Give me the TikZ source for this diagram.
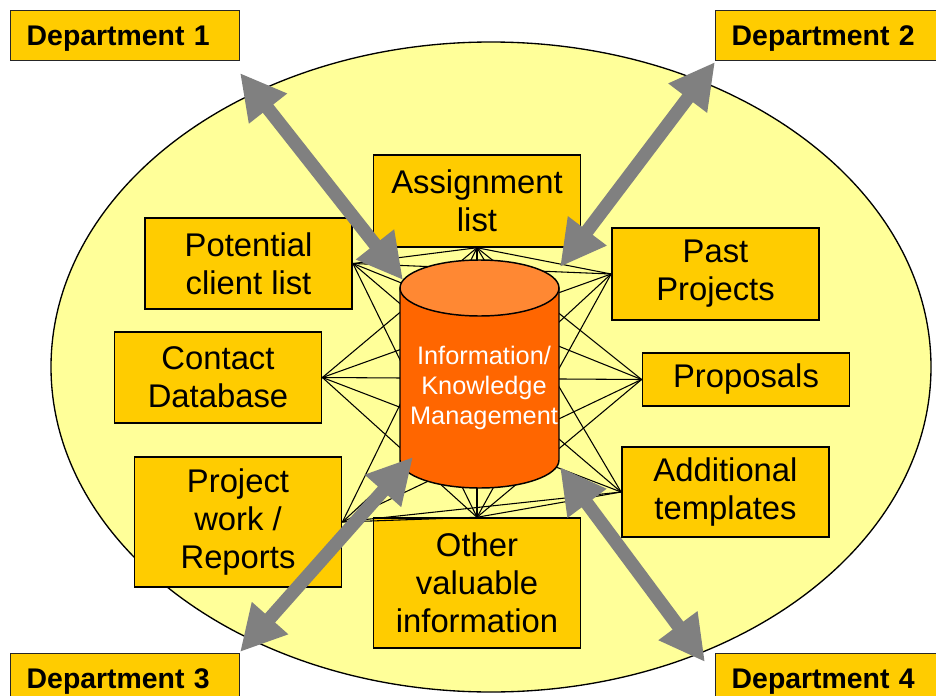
\documentclass[tikz,border=0pt]{standalone}
\usepackage{fontspec}
\setmainfont{Liberation Sans}
\usetikzlibrary{arrows.meta}

\definecolor{boxgold}{RGB}{255,204,0}
\definecolor{paleyellow}{RGB}{255,255,153}
\definecolor{drumbody}{RGB}{255,102,0}
\definecolor{drumtop}{RGB}{255,136,51}
\definecolor{arrowgray}{RGB}{128,128,128}

\tikzset{every picture/.style={line width=0.75pt}}
\tikzset{
  infobox/.style={draw, fill=boxgold, line width=1.1pt, minimum width=155.5pt,
    inner sep=0pt, align=center, font=\fontsize{24.6}{28.5}\selectfont},
  deptbox/.style={draw=black!85, fill=boxgold, line width=1.1pt, anchor=north west,
    minimum height=37.5pt, inner xsep=12pt, inner ysep=0pt, text width=147.75pt,
    text depth=0pt, align=left, font=\fontsize{21.3}{24}\selectfont\bfseries},
  meshline/.style={line width=0.8pt},
  bigarrow/.style={draw=arrowgray, line width=10pt,
    {Triangle[length=34pt,width=34pt]}-{Triangle[length=34pt,width=34pt]}},
}

\begin{document}
\begin{tikzpicture}[x=0.75pt,y=0.75pt,yscale=-1,xscale=1]
	\useasboundingbox (0,0) rectangle (936,696);

	% Background ellipse
	\draw [fill=paleyellow, line width=1pt] (491,367) ellipse [x radius=440, y radius=325];

	% Department boxes
	\node [deptbox] (dept1) at (10,10) {Department 1};
	\node [deptbox] (dept2) at (715,10) {Department 2};
	\node [deptbox] (dept3) at (10,653) {Department 3};
	\node [deptbox] (dept4) at (715,653) {Department 4};

	% Information boxes
	\node [infobox, minimum height=69pt] (assign) at (477,201) {Assignment\\list};
	\node [infobox, minimum height=68.25pt] (potential) at (248.5,263.5) {Potential\\client list};
	\node [infobox, minimum height=69pt] (past) at (715.5,274) {Past\\Projects};
	\node [infobox, minimum height=68.25pt] (contact) at (218,377.5) {Contact\\Database};
	\node [infobox, minimum height=39.75pt] (proposals) at (746,379.5) {Proposals};
	\node [infobox, minimum height=67.5pt] (additional) at (725.5,492) {Additional\\templates};
	\node [infobox, minimum height=97.5pt] (project) at (238,522) {Project\\work /\\Reports};
	\node [infobox, minimum height=97.5pt] (other) at (477,583) {Other\\valuable\\information};

	% Mesh of thin links
	\coordinate (pcl) at (potential.east);
	\coordinate (cdb) at (contact.east);
	\coordinate (pwr) at (project.east);
	\coordinate (asl) at (assign.south);
	\coordinate (ovi) at (other.north);
	\coordinate (ppj) at (past.west);
	\coordinate (prp) at (proposals.west);
	\coordinate (adt) at (additional.west);
	\foreach \a in {pcl,cdb,pwr,asl,ovi}
		\foreach \b in {ppj,prp,adt}
			\draw [meshline] (\a) -- (\b);
	\foreach \b in {pcl,cdb,pwr,ovi}
		\draw [meshline] (asl) -- (\b);
	\foreach \b in {pcl,cdb,pwr}
		\draw [meshline] (ovi) -- (\b);

	% Database drum
	\draw [fill=drumbody, line width=1.1pt] (400,288) -- (400,460)
		arc [start angle=180, end angle=0, x radius=79.5, y radius=28] -- (559,288) -- cycle;
	\draw [fill=drumtop, line width=1.1pt] (479.5,288) ellipse [x radius=79.5, y radius=28];
	\node [text=white, align=center, font=\fontsize{19}{22.5}\selectfont] (km) at (484,388)
		{Information/\\Knowledge\\Management};

	% Two-way arrows
	\coordinate (d1tip) at (240,73);
	\coordinate (k1tip) at (403,280);
	\coordinate (d2tip) at (715,62);
	\coordinate (k2tip) at (560,267);
	\coordinate (d3tip) at (240,652);
	\coordinate (k3tip) at (413,457);
	\coordinate (d4tip) at (705,662);
	\coordinate (k4tip) at (560,467);
	\draw [bigarrow] (d1tip) -- (k1tip);
	\draw [bigarrow] (d2tip) -- (k2tip);
	\draw [bigarrow] (d3tip) -- (k3tip);
	\draw [bigarrow] (d4tip) -- (k4tip);

\end{tikzpicture}
\end{document}
